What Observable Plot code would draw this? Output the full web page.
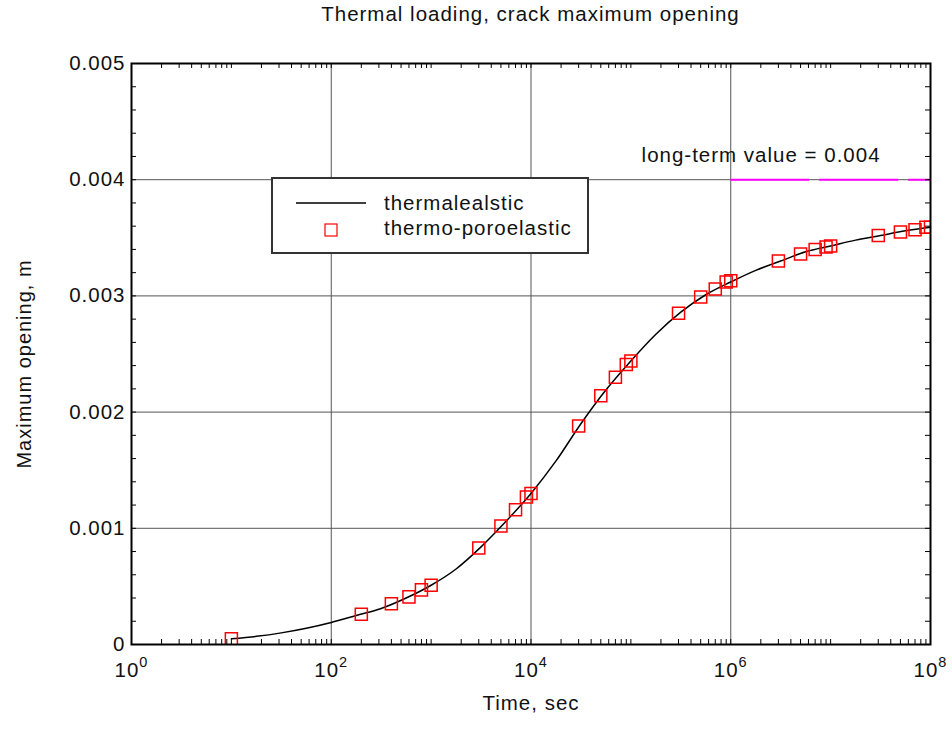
<!DOCTYPE html>
<html>
<head>
<meta charset="utf-8">
<script src="https://cdn.jsdelivr.net/npm/d3@7"></script>
<script src="https://cdn.jsdelivr.net/npm/@observablehq/plot@0.6"></script>
<style>
  html, body { margin: 0; padding: 0; background: #fff; }
  #wrap { position: relative; width: 952px; height: 746px; font-family: "Liberation Sans", Arial, Helvetica, sans-serif; }
  #title { height: 32px; line-height: 28px; font-size: 20.5px; letter-spacing: 1px; color: #111; padding-left: 131px; width: 799px; text-align: center; }
  #legend { position: absolute; left: 271px; top: 177px; width: 318px; height: 77px; box-sizing: border-box; border: 2px solid #333; background: #fff; }
  #legend svg { display: block; }
</style>
</head>
<body>
<div id="wrap">
  <div id="title">Thermal loading, crack maximum opening</div>
  <div id="chart"></div>
  <div id="legend"></div>
</div>
<script>
// ---- Data ----
const curveT = [10, 17.8, 31.6, 56.2, 100, 178, 316, 562, 1000, 1778, 3162, 5623, 1e4, 1.78e4, 3.16e4, 5.62e4, 1e5, 1.78e5, 3.16e5, 5.62e5, 1e6, 1.78e6, 3.16e6, 5.62e6, 1e7, 1.78e7, 3.16e7, 5.62e7, 1e8];
const curveV = [0.00005, 0.00007, 0.0001, 0.00014, 0.00019, 0.00025, 0.00031, 0.0004, 0.00051, 0.00065, 0.00084, 0.00106, 0.0013, 0.00158, 0.0019, 0.00219, 0.00244, 0.00267, 0.00286, 0.00301, 0.00312, 0.00322, 0.0033, 0.00338, 0.00343, 0.00348, 0.00352, 0.00356, 0.00359];

const markerT = [10, 200, 400, 600, 800, 1000, 3000, 5000, 7000, 9000, 1e4, 3e4, 5e4, 7e4, 9e4, 1e5, 3e5, 5e5, 7e5, 9e5, 1e6, 3e6, 5e6, 7e6, 9e6, 1e7, 3e7, 5e7, 7e7, 9e7, 1e8];
const markerV = [0.00005, 0.00026, 0.00035, 0.00041, 0.00047, 0.00051, 0.00083, 0.00102, 0.00116, 0.00127, 0.0013, 0.00188, 0.00214, 0.0023, 0.00241, 0.00244, 0.00285, 0.00299, 0.00306, 0.00312, 0.00313, 0.0033, 0.00336, 0.0034, 0.00342, 0.00343, 0.00352, 0.00355, 0.00357, 0.00359, 0.00359];

const longTermValue = [0.004];
const longTermRange = [1e6, 1e8];
const longTermLabel = ["long-term value = 0.004"];
const longTermLabelPos = [{x: 1.28e5, y: 0.00421}];

const xTickValues = [1, 1e2, 1e4, 1e6, 1e8];
const xTickLabels = ["10^0", "10^2", "10^4", "10^6", "10^8"];
const xGridValues = [1e2, 1e4, 1e6];
const yTickValues = [0, 0.001, 0.002, 0.003, 0.004, 0.005];
const yTickLabels = ["0", "0.001", "0.002", "0.003", "0.004", "0.005"];
const yGridValues = [0.001, 0.002, 0.003, 0.004];

const seriesNames = ["thermalealstic", "thermo-poroelastic"];
const titleText = "Thermal loading, crack maximum opening";
const xLabel = "Time, sec";
const yLabel = "Maximum opening, m";

// minor ticks (log: 1..9 per decade; linear: every 0.0002)
const xMinor = [];
for (let e = 0; e < 8; e++) for (let k = 1; k <= 9; k++) xMinor.push(k * Math.pow(10, e));
xMinor.push(1e8);
const yMinor = d3.range(0, 26).map(i => +(i * 0.0002).toFixed(4));

// ---- Layout ----
const W = 952, H = 714;
const mL = 131, mR = 22, mT = 31, mB = 102;
const plotW = W - mL - mR, plotH = H - mT - mB;
const tickLen = 5;

const curveData = curveT.map((t, i) => ({t, v: curveV[i]}));
const markerData = markerT.map((t, i) => ({t, v: markerV[i]}));

const chart = Plot.plot({
  width: W,
  height: H,
  marginLeft: mL, marginRight: mR, marginTop: mT, marginBottom: mB,
  style: {fontFamily: "'Liberation Sans', Arial, Helvetica, sans-serif", fontSize: "20.5px", letterSpacing: "1px", color: "#111", background: "#fff"},
  x: {type: "log", domain: [1, 1e8], label: null},
  y: {domain: [0, 0.005], label: null},
  marks: [
    Plot.ruleX(xGridValues, {stroke: "#555", strokeWidth: 1}),
    Plot.ruleY(yGridValues, {stroke: "#555", strokeWidth: 1}),
    Plot.ruleY(longTermValue, {x1: longTermRange[0], x2: longTermRange[1], stroke: "#ff00ff", strokeWidth: 2, strokeDasharray: "79,10"}),
    Plot.line(curveData, {x: "t", y: "v", stroke: "#000", strokeWidth: 1.5, curve: "monotone-x"}),
    Plot.dot(markerData, {x: "t", y: "v", symbol: "square", r: 6.8, fill: "none", stroke: "#ff0000", strokeWidth: 1.5, clip: true}),
    // inside ticks
    Plot.ruleX(xMinor, {insetTop: plotH - tickLen, stroke: "#000", strokeWidth: 1}),
    Plot.ruleX(xMinor, {insetBottom: plotH - tickLen, stroke: "#000", strokeWidth: 1}),
    Plot.ruleY(yMinor, {insetRight: plotW - tickLen, stroke: "#000", strokeWidth: 1}),
    Plot.ruleY(yMinor, {insetLeft: plotW - tickLen, stroke: "#000", strokeWidth: 1}),
    Plot.frame({stroke: "#000", strokeWidth: 2}),
    Plot.axisX(xTickValues, {anchor: "bottom", tickSize: 0, tickPadding: 18, label: null,
      tickFormat: d => xTickLabels[xTickValues.indexOf(d)], fontSize: 20.5}),
    Plot.axisY(yTickValues, {anchor: "left", tickSize: 0, tickPadding: 6, label: null,
      tickFormat: d => yTickLabels[yTickValues.indexOf(d)], fontSize: 20.5}),
    Plot.text(longTermLabel, {x: () => longTermLabelPos[0].x, y: () => longTermLabelPos[0].y, text: d => d, textAnchor: "start", fontSize: 20.5, fill: "#111"}),
    Plot.text([xLabel], {frameAnchor: "bottom", dy: 59, text: d => d, textAnchor: "middle", lineAnchor: "middle", fontSize: 20.5, fill: "#111"}),
    Plot.text([yLabel], {frameAnchor: "left", dx: -107, dy: 10, rotate: -90, text: d => d, textAnchor: "middle", lineAnchor: "middle", fontSize: 20, fill: "#111", ariaLabel: "ylabel"})
  ]
});

document.getElementById("chart").appendChild(chart);

// superscript exponents on x tick labels
d3.select(chart).selectAll('g[aria-label="x-axis tick label"] text').each(function() {
  const parts = this.textContent.split("^");
  if (parts.length !== 2) return;
  const sel = d3.select(this);
  this.textContent = "";
  sel.append("tspan").text(parts[0]);
  sel.append("tspan").attr("dy", "-10").attr("font-size", "14.5px").text(parts[1]);
});
d3.select(chart).selectAll('g[aria-label="ylabel"]').style("letter-spacing", "0px");

// legend
const lg = d3.select("#legend").append("svg").attr("width", 314).attr("height", 73)
  .style("font-family", "'Liberation Sans', Arial, Helvetica, sans-serif")
  .style("font-size", "20.5px").style("letter-spacing", "1px");
lg.append("line").attr("x1", 23).attr("x2", 93).attr("y1", 24).attr("y2", 24).attr("stroke", "#000").attr("stroke-width", 1.5);
lg.append("rect").attr("x", 52).attr("y", 45).attr("width", 12).attr("height", 12).attr("fill", "none").attr("stroke", "#ff0000").attr("stroke-width", 1.2);
lg.append("text").attr("x", 111).attr("y", 31).attr("fill", "#111").text(seriesNames[0]);
lg.append("text").attr("x", 111).attr("y", 56).attr("fill", "#111").text(seriesNames[1]);
</script>
</body>
</html>
